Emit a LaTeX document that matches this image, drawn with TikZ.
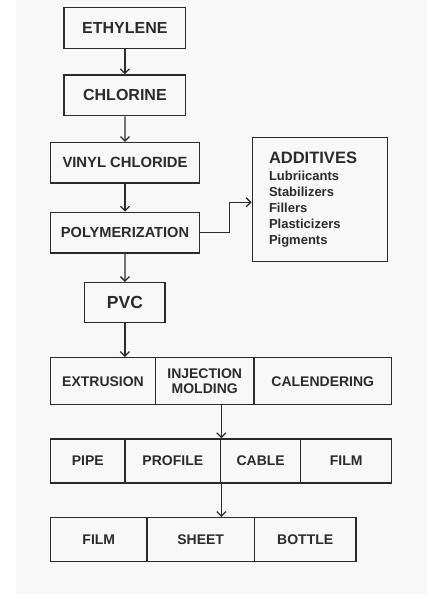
\documentclass[tikz,border=0pt]{standalone}
\usepackage{fontspec}
\setmainfont{Liberation Sans}
\usepackage[dvipsnames]{xcolor}
\usetikzlibrary{calc, positioning, arrows.meta}

\definecolor{paper}{HTML}{F8F8F8}
\definecolor{ink}{HTML}{2B2B2B}

\begin{document}
\begin{tikzpicture}[x=1pt, y=-1pt,
        stage/.style={draw=ink, line width=1.4pt, text=ink, font=\fontsize{16}{18}\selectfont\bfseries, inner sep=0pt, align=center},
        cell/.style={stage, font=\fontsize{14}{15}\selectfont\bfseries},
        flow/.style={draw=ink, line width=1.3pt, -{Straight Barb[length=4.5pt, width=9pt, line width=1.3pt]}}]

        \useasboundingbox (0,0) rectangle (427,608);
        \fill[paper] (16,0) rectangle (427,594.3);

        % main chain
        \node[stage, minimum width=121.7, minimum height=41.4] (eth) at (124.9,28) {ETHYLENE};
        \node[stage, minimum width=121.7, minimum height=40.7] (chl) at (124.9,95.3) {CHLORINE};
        \node[stage, minimum width=148.6, minimum height=40.3, font=\fontsize{14.8}{16}\selectfont\bfseries] (vin) at (125,162.8) {VINYL CHLORIDE};
        \node[stage, minimum width=148.6, minimum height=40.7, font=\fontsize{14.6}{16}\selectfont\bfseries] (pol) at (125,232.7) {POLYMERIZATION};
        \node[stage, minimum width=80.3, minimum height=40, font=\fontsize{17.5}{18}\selectfont\bfseries] (pvc) at (124.9,302.7) {PVC};

        \node[stage, minimum width=135, minimum height=123.6, text width=101.6, align=left, font=\fontsize{13}{15.9}\selectfont\bfseries] (add) at (319.8,199.5)
            {{\fontsize{16.5}{18}\selectfont ADDITIVES}\\[1pt] Lubriicants\\ Stabilizers\\ Fillers\\ Plasticizers\\ Pigments};

        % processes
        \node[cell, minimum width=104.6, minimum height=47] (ext) at (103,381.2) {EXTRUSION};
        \node[cell, minimum width=98.7, minimum height=47] (inj) at (204.7,381.2) {INJECTION\\MOLDING};
        \node[cell, minimum width=137.7, minimum height=47] (cal) at (322.8,381.2) {CALENDERING};

        % products
        \node[cell, minimum width=74.3, minimum height=44] (pipe) at (87.8,461) {PIPE};
        \node[cell, minimum width=95.7, minimum height=44] (prof) at (172.8,461) {PROFILE};
        \node[cell, minimum width=80, minimum height=44] (cab) at (260.7,461) {CABLE};
        \node[cell, minimum width=91, minimum height=44] (filmA) at (346.2,461) {FILM};

        \node[cell, minimum width=96.3, minimum height=43.6] (filmB) at (98.8,539.5) {FILM};
        \node[cell, minimum width=107.3, minimum height=43.6] (sheet) at (200.7,539.5) {SHEET};
        \node[cell, minimum width=101.7, minimum height=43.6] (bottle) at (305.2,539.5) {BOTTLE};

        % arrows
        \draw[flow] (eth) -- (chl);
        \draw[flow] (chl) -- (vin);
        \draw[flow] (vin) -- (pol);
        \draw[flow] (pol) -- (pvc);
        \draw[flow] (pvc.south) -- (ext.north -| pvc.south);
        \draw[flow] (pol.east) -- ++(29.4,0) |- ([yshift=-2.8pt]add.west);
        \draw[flow] (inj.south -| prof.north east) -- (prof.north east);
        \draw[flow] (prof.south east) -- (sheet.north -| prof.south east);
\end{tikzpicture}
\end{document}
